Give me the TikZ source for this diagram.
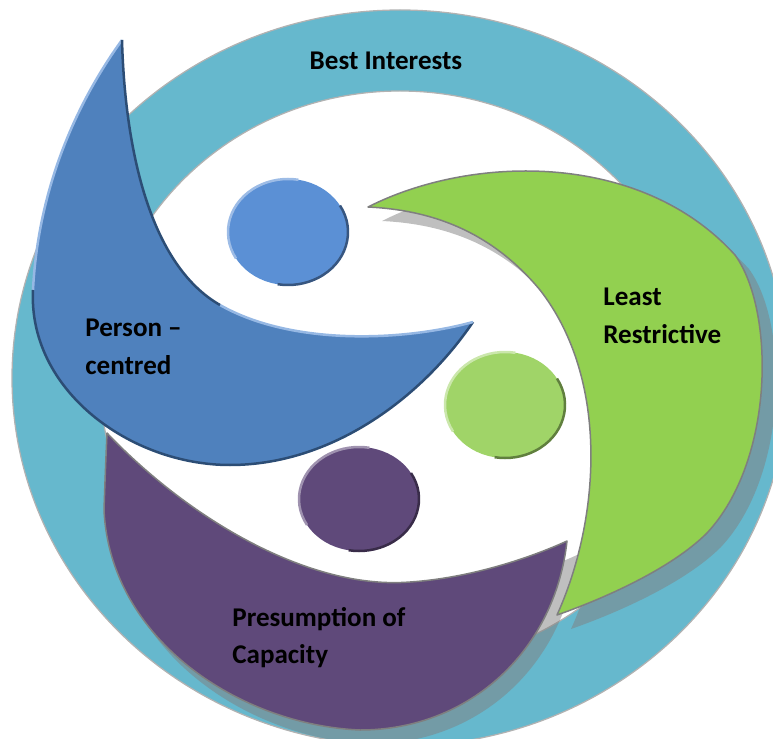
\documentclass[tikz,border=0pt]{standalone}
\usepackage{fontspec}
\setmainfont{Carlito}
\usepackage{tikz}

\definecolor{ringteal}{RGB}{102,184,205}
\definecolor{ringedge}{RGB}{178,178,178}
\definecolor{moonedge}{RGB}{127,127,127}
\definecolor{personblue}{RGB}{79,129,189}
\definecolor{personlight}{RGB}{150,184,228}
\definecolor{persondark}{RGB}{44,77,117}
\definecolor{headblue}{RGB}{91,144,213}
\definecolor{leastgreen}{RGB}{146,208,80}
\definecolor{headgreen}{RGB}{160,212,104}
\definecolor{capacitypurple}{RGB}{95,73,122}

\newcommand{\wordfont}{\fontsize{15.4}{18}\selectfont\bfseries}

% the three moons, in pixel units
\newcommand{\personmoon}{(122,40) .. controls (75,105) and (38,190) .. (33,290)
  .. controls (28,390) and (130,465) .. (230,465)
  .. controls (330,465) and (420,400) .. (473,322)
  .. controls (400,342) and (290,345) .. (220,305)
  .. controls (150,265) and (125,150) .. (122,40) -- cycle}
\newcommand{\leastmoon}{(368,207) .. controls (470,155) and (640,150) .. (735,255)
  .. controls (775,310) and (775,460) .. (707,533)
  .. controls (670,570) and (600,600) .. (557,615)
  .. controls (600,520) and (610,380) .. (540,290)
  .. controls (490,230) and (430,210) .. (368,207) -- cycle}
\newcommand{\capacitymoon}{(107,433) .. controls (190,520) and (310,590) .. (410,582)
  .. controls (470,578) and (530,558) .. (567,541)
  .. controls (555,650) and (470,730) .. (360,730)
  .. controls (240,725) and (110,640) .. (104,510)
  .. controls (105,480) and (106,455) .. (107,433) -- cycle}

\begin{document}
\begin{tikzpicture}[x=0.02cm, y=-0.02cm, line join=round]
    \tikzstyle{word} = [font=\wordfont, anchor=base west, inner sep=0pt, text=black]
    \tikzstyle{moonshadow} = [fill=black!50, opacity=0.5]
    \tikzstyle{rim} = [line width=0.05cm]
    \useasboundingbox (0,0) rectangle (773,739);

    % outer ring
    \fill[ringteal, even odd rule] (400,378) ellipse [x radius=388, y radius=368]
        (400,378) ellipse [x radius=300, y radius=287];
    \draw[ringedge, line width=0.025cm] (400,378) ellipse [x radius=388, y radius=368];
    \draw[ringedge, line width=0.025cm] (400,378) ellipse [x radius=300, y radius=287];

    % shadows
    \fill[moonshadow, shift={(14,14)}] \leastmoon;
    \fill[moonshadow, shift={(10,14)}] \capacitymoon;

    \filldraw[fill=capacitypurple, draw=moonedge, line width=0.03cm] \capacitymoon;
    \filldraw[fill=leastgreen, draw=moonedge, line width=0.03cm] \leastmoon;

    \fill[personblue] \personmoon;
    \draw[personlight, rim] (122,40) .. controls (75,105) and (38,190) .. (33,290);
    \draw[persondark, rim] (33,290) .. controls (28,390) and (130,465) .. (230,465)
        .. controls (330,465) and (420,400) .. (473,322);
    \draw[personlight, rim] (473,322) .. controls (400,342) and (290,345) .. (220,305);
    \draw[persondark, rim] (220,305) .. controls (150,265) and (125,150) .. (122,40);

    % heads
    \fill[headblue] (288,232) ellipse [x radius=60, y radius=53];
    \draw[rim, headblue!60!white] (288,232) ++(150:60 and 53)
        arc[start angle=150, end angle=280, x radius=60, y radius=53];
    \draw[rim, headblue!60!black] (288,232) ++(-30:60 and 53)
        arc[start angle=-30, end angle=100, x radius=60, y radius=53];

    \fill[headgreen] (505,405) ellipse [x radius=60, y radius=53];
    \draw[rim, headgreen!55!white] (505,405) ++(150:60 and 53)
        arc[start angle=150, end angle=280, x radius=60, y radius=53];
    \draw[rim, headgreen!60!black] (505,405) ++(-30:60 and 53)
        arc[start angle=-30, end angle=100, x radius=60, y radius=53];

    \fill[capacitypurple] (359,499) ellipse [x radius=60, y radius=52];
    \draw[rim, capacitypurple!60!white] (359,499) ++(150:60 and 52)
        arc[start angle=150, end angle=280, x radius=60, y radius=52];
    \draw[rim, capacitypurple!60!black] (359,499) ++(-30:60 and 52)
        arc[start angle=-30, end angle=100, x radius=60, y radius=52];

    % labels
    \node [word, anchor=base] at (386,70) (best) {Best Interests};
    \node [word] at (85,337) (person) {Person –};
    \node [word] at (85,375) (centred) {centred};
    \node [word] at (603,306) (least) {Least};
    \node [word] at (603,343) (restrictive) {Restrictive};
    \node [word] at (232,626) (presumption) {Presumption of};
    \node [word] at (232,663) (capacity) {Capacity};
\end{tikzpicture}
\end{document}
